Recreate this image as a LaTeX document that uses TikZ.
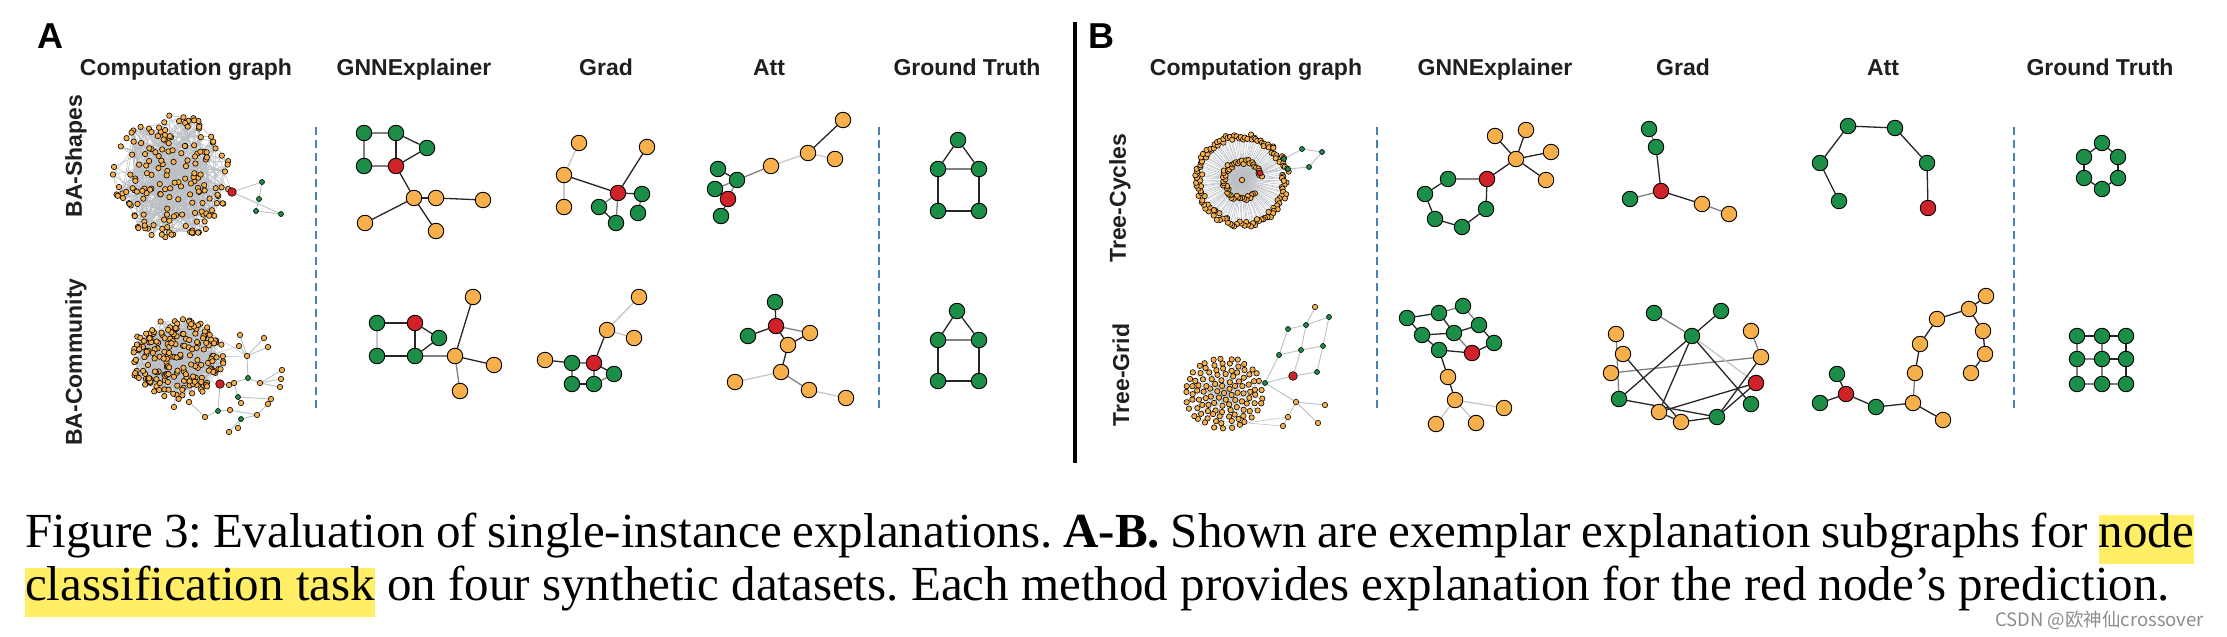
\documentclass[tikz,border=0pt]{standalone}
\usepackage{fontspec}
\setmainfont{Liberation Serif}
\newfontfamily\headfont{Liberation Sans}
\newfontfamily\cjkfont{Noto Sans CJK SC}
\usetikzlibrary{positioning}

\definecolor{nodegreen}{RGB}{27,142,72}
\definecolor{nodeorange}{RGB}{248,176,76}
\definecolor{nodered}{RGB}{208,34,40}
\definecolor{sepblue}{RGB}{74,128,184}
\definecolor{cloudgray}{RGB}{188,192,197}
\definecolor{hlyellow}{RGB}{255,238,102}

\newcommand{\hlword}[1]{\setbox0\hbox{#1}\rlap{\color{hlyellow}\rule[-17pt]{\wd0}{49pt}}\box0\relax}

\pgfdeclarelayer{paper}
\pgfdeclarelayer{edges}
\pgfsetlayers{paper,edges,main}

\tikzset{
  gnode/.style={circle, draw=black, line width=0.9pt, minimum size=15.5pt, inner sep=0pt},
  grn/.style={gnode, fill=nodegreen},
  org/.style={gnode, fill=nodeorange},
  rdn/.style={gnode, fill=nodered},
  edk/.style={draw=black!85, line width=1.3pt},
  emd/.style={draw=black!50, line width=1.3pt},
  elt/.style={draw=black!22, line width=1.3pt},
  cgedge/.style={draw=cloudgray, line width=0.55pt},
  cgo/.style={fill=nodeorange, draw=black, line width=0.6pt},
  cgg/.style={fill=nodegreen, draw=black, line width=0.6pt},
  cgr/.style={fill=nodered, draw=black, line width=0.6pt},
  colhead/.style={font=\headfont\bfseries\fontsize{23}{26}\selectfont, text=black!88, anchor=base, inner sep=0pt},
  rowhead/.style={font=\headfont\bfseries\fontsize{23}{26}\selectfont, text=black!88, rotate=90, inner sep=0pt},
  panel/.style={font=\headfont\bfseries\fontsize{36}{40}\selectfont, anchor=base west, inner sep=0pt},
  sepline/.style={draw=sepblue, line width=2pt, dash pattern=on 8pt off 5pt},
  capline/.style={font=\fontsize{49}{53}\selectfont\frenchspacing, anchor=base west, inner sep=0pt},
}

\begin{document}
\begin{tikzpicture}[x=1pt, y=-1pt]
    \useasboundingbox (0,0) rectangle (2227,637);
    \begin{pgfonlayer}{paper}
        \fill[white] (0,0) rectangle (2227,637);
    \end{pgfonlayer}

    % Panel letters and headings
    \node[panel] (pa) at (37,48) {A};
    \node[panel] (pb) at (1088,48) {B};
    \foreach \n/\x/\t in {cg/186/Computation graph, gx/414/GNNExplainer, gr/606/Grad, at/769/Att, gt/967/Ground Truth}
        \node[colhead] (ha-\n) at (\x,75) {\t};
    \foreach \n/\x/\t in {cg/1256/Computation graph, gx/1495/GNNExplainer, gr/1683/Grad, at/1883/Att, gt/2100/Ground Truth}
        \node[colhead] (hb-\n) at (\x,75) {\t};
    \node[rowhead] (ra1) at (76,156) {BA-Shapes};
    \node[rowhead] (ra2) at (76,362) {BA-Community};
    \node[rowhead] (rb1) at (1120,198) {Tree-Cycles};
    \node[rowhead] (rb2) at (1121,375) {Tree-Grid};

    % Separators
    \foreach \x in {316,879,1377,2014}
        \draw[sepline] (\x,127) -- (\x,413);
    \draw[line width=3.5pt] (1075,22) -- (1075,463);

    % BA-Shapes computation graph
    \pgfmathsetseed{7}
    \foreach \i in {1,...,175} {
        \pgfmathsetmacro\ang{360*rnd}
        \pgfmathsetmacro\rad{sqrt(rnd)}
        \coordinate (sc\i) at ({172+60*\rad*cos(\ang)},{177+63*\rad*sin(\ang)});
    }
    \coordinate (sc-r) at (232,192);
    \foreach \n/\x/\y in {s1/262/182, s2/259/199, s3/256/211, s4/281/214}
        \coordinate (sc-\n) at (\x,\y);
    \begin{pgfonlayer}{edges}
        \foreach \i in {2,...,175} {
            \pgfmathtruncatemacro\j{1+floor(rnd*(\i-1))}
            \pgfmathtruncatemacro\k{1+floor(rnd*(\i-1))}
            \pgfmathtruncatemacro\m{1+floor(rnd*(\i-1))}
            \draw[cgedge] (sc\i) -- (sc\j) (sc\i) -- (sc\k) (sc\i) -- (sc\m);
        }
        \foreach \i in {5,30,62,118}
            \draw[cgedge] (sc-r) -- (sc\i);
        \foreach \a/\b in {r/s1, s1/s2, s2/s3, s3/s4, r/s4}
            \draw[cgedge, line width=0.9pt] (sc-\a) -- (sc-\b);
    \end{pgfonlayer}
    \foreach \i in {1,...,175}
        \filldraw[cgo] (sc\i) circle (2.7pt);
    \foreach \n in {s1,s2,s3,s4}
        \filldraw[cgg] (sc-\n) circle (2.5pt);
    \filldraw[cgr] (sc-r) circle (4.3pt);

    % BA-Community computation graph
    \foreach \i in {1,...,210} {
        \pgfmathsetmacro\ang{360*rnd}
        \pgfmathsetmacro\rad{sqrt(rnd)}
        \coordinate (cb\i) at ({177+47*\rad*cos(\ang)},{358+41*\rad*sin(\ang)});
    }
    \coordinate (cc-r) at (220,384);
    \foreach \n/\x/\y in {k1/240/335, k2/264/338, k3/239/346, k4/268/347, k5/247/356, k6/248/378,
        k7/282/370, k8/281/379, k9/260/383, k10/280/387, k11/238/397, k12/241/403, k13/271/399,
        k14/268/404, k15/218/411, k16/230/410, k17/257/415, k18/241/419, k19/205/417, k20/229/432,
        k21/238/428, k22/174/407, k23/189/402, k24/234/383, k25/229/385}
        \coordinate (cc-\n) at (\x,\y);
    \begin{pgfonlayer}{edges}
        \foreach \i in {2,...,210} {
            \pgfmathtruncatemacro\j{1+floor(rnd*(\i-1))}
            \pgfmathtruncatemacro\k{1+floor(rnd*(\i-1))}
            \pgfmathtruncatemacro\m{1+floor(rnd*(\i-1))}
            \draw[cgedge] (cb\i) -- (cb\j) (cb\i) -- (cb\k) (cb\i) -- (cb\m);
        }
        \foreach \a/\b in {r/k25, k25/k24, k24/k6, k6/k5, k5/k1, k5/k2, k5/k3, k5/k4, k6/k9, k9/k7,
            k9/k8, k9/k10, k24/k11, k11/k12, k11/k13, k13/k14, k14/k17, r/k15, k15/k16, k16/k17,
            k17/k18, k18/k20, k18/k21, k15/k19, k19/k23}
            \draw[cgedge, line width=0.9pt] (cc-\a) -- (cc-\b);
        \foreach \a/\i in {k5/12, k5/80, k3/44, r/9, r/150, k22/33, k23/101, k22/170}
            \draw[cgedge] (cc-\a) -- (cb\i);
    \end{pgfonlayer}
    \foreach \i in {1,...,210}
        \filldraw[cgo] (cb\i) circle (2.7pt);
    \foreach \n in {k1,k2,k3,k4,k5,k7,k8,k9,k10,k12,k13,k14,k16,k17,k19,k20,k21,k22,k23,k24,k25}
        \filldraw[cgo] (cc-\n) circle (2.7pt);
    \foreach \n in {k6,k11,k15,k18}
        \filldraw[cgg] (cc-\n) circle (2.5pt);
    \filldraw[cgr] (cc-r) circle (4.3pt);

    % Tree-Cycles computation graph
    \coordinate (yc0) at (1242,180);
    \foreach \i in {1,...,125} {
        \pgfmathsetmacro\ang{\i*2.88+2*rnd}
        \pgfmathsetmacro\rad{40+7.5*rnd}
        \coordinate (yco\i) at ({1242+\rad*cos(\ang)},{180+\rad*sin(\ang)});
    }
    \foreach \i in {1,...,50} {
        \pgfmathsetmacro\ang{40+\i*6.2}
        \pgfmathsetmacro\rad{16+5*rnd}
        \coordinate (yci\i) at ({1242+\rad*cos(\ang)},{180+\rad*sin(\ang)});
    }
    \coordinate (yc-r) at (1260,173);
    \foreach \n/\x/\y in {c1/1302/149, c2/1322/152, c3/1309/167, c4/1288/169, c5/1284/159}
        \coordinate (yc-\n) at (\x,\y);
    \begin{pgfonlayer}{edges}
        \foreach \i in {1,...,125}
            \draw[cgedge] (yc0) -- (yco\i);
        \foreach \i in {1,...,50}
            \draw[cgedge] (yc0) -- (yci\i);
        \foreach \a/\b in {c5/c1, c1/c2, c2/c3, c3/c4, c4/r, c5/r}
            \draw[cgedge, line width=0.9pt] (yc-\a) -- (yc-\b);
    \end{pgfonlayer}
    \foreach \i in {1,...,125}
        \filldraw[cgo] (yco\i) circle (2.7pt);
    \foreach \i in {1,...,50}
        \filldraw[cgo] (yci\i) circle (2.7pt);
    \filldraw[cgo] (yc0) circle (2.7pt);
    \foreach \n in {c1,c2,c3,c4,c5}
        \filldraw[cgg] (yc-\n) circle (2.5pt);
    \filldraw[cgr] (yc-r) circle (3pt);

    % Tree-Grid computation graph
    \coordinate (tc0) at (1224,393);
    \foreach \r/\n [count=\q] in {7/6, 13/11, 19/16, 25/21, 31/25, 37/29} {
        \foreach \k in {1,...,\n} {
            \pgfmathsetmacro\ang{360*\k/\n+15*\q+6*rnd}
            \pgfmathsetmacro\rad{\r+2*rnd}
            \coordinate (tc\q-\k) at ({1224+\rad*cos(\ang)},{393+0.92*\rad*sin(\ang)});
        }
    }
    \coordinate (tc-r) at (1293,376);
    \foreach \n/\x/\y in {tA/1315/307, tB/1329/317, tC/1288/329, tD/1306/325, tE/1279/355, tF/1301/350,
        tG/1323/346, tH/1317/372, tI/1265/383, tJ/1296/402, tK/1325/405, tL/1288/417, tM/1283/426, tN/1318/423}
        \coordinate (tc-\n) at (\x,\y);
    \begin{pgfonlayer}{edges}
        \foreach \r/\n [count=\q] in {7/6, 13/11, 19/16, 25/21, 31/25, 37/29}
            \foreach \k in {1,...,\n}
                \draw[cgedge] (tc0) -- (tc\q-\k);
        \foreach \a/\b in {tA/tD, tC/tD, tD/tB, tE/tF, tF/tG, tI/r, r/tH, tC/tE, tE/tI, tD/tF,
            tF/r, tB/tG, tG/tH, tI/tJ, tJ/tK, tJ/tL, tL/tM, tJ/tN}
            \draw[cgedge, line width=0.9pt] (tc-\a) -- (tc-\b);
        \draw[cgedge] (tc0) -- (tc-tI) (tc6-3) -- (tc-tM) (tc6-1) -- (tc-tL);
    \end{pgfonlayer}
    \foreach \r/\n [count=\q] in {7/6, 13/11, 19/16, 25/21, 31/25, 37/29}
        \foreach \k in {1,...,\n}
            \filldraw[cgo] (tc\q-\k) circle (2.7pt);
    \filldraw[cgo] (tc0) circle (2.7pt);
    \foreach \n in {tA,tJ,tK,tL,tM,tN}
        \filldraw[cgo] (tc-\n) circle (2.7pt);
    \foreach \n in {tB,tC,tD,tE,tF,tG,tH,tI}
        \filldraw[cgg] (tc-\n) circle (2.5pt);
    \filldraw[cgr] (tc-r) circle (4.3pt);

    % BA-Shapes explanations
    \foreach \n/\x/\y/\s in {g1/364/133/grn, g2/396/133/grn, g3/427/148/grn, g4/364/166/grn, r/396/166/rdn,
        o1/414/198/org, o2/436/198/org, o3/483/200/org, o4/365/223/org, o5/436/231/org}
        \node[\s] (sx-\n) at (\x,\y) {};
    \foreach \n/\x/\y/\s in {o1/579/143/org, o2/647/147/org, o3/564/175/org, r/618/193/rdn, g1/642/194/grn,
        o4/564/207/org, g2/599/207/grn, g3/638/213/grn, g4/616/223/grn}
        \node[\s] (sd-\n) at (\x,\y) {};
    \foreach \n/\x/\y/\s in {o1/843/120/org, o2/808/153/org, o3/835/159/org, o4/771/166/org, g1/718/169/grn,
        g2/737/180/grn, g3/715/189/grn, r/728/199/rdn, g4/721/216/grn}
        \node[\s] (sa-\n) at (\x,\y) {};
    \foreach \n/\x/\y in {top/958/140, ml/938/169, mr/979/169, bl/938/211, br/979/211}
        \node[grn] (st-\n) at (\x,\y) {};

    % BA-Community explanations
    \foreach \n/\x/\y/\s in {g1/377/323/grn, r/415/323/rdn, g2/439/338/grn, g3/377/356/grn, g4/415/356/grn,
        o1/455/356/org, o2/473/297/org, o3/494/365/org, o4/460/391/org}
        \node[\s] (cx-\n) at (\x,\y) {};
    \foreach \n/\x/\y/\s in {o1/545/360/org, g1/572/363/grn, r/594/363/rdn, g2/614/374/grn, g3/572/384/grn,
        g4/594/384/grn, o2/607/330/org, o3/639/297/org, o4/634/338/org}
        \node[\s] (cd-\n) at (\x,\y) {};
    \foreach \n/\x/\y/\s in {g1/775/302/grn, r/776/326/rdn, g2/748/336/grn, o1/810/333/org, o2/788/345/org,
        o3/781/372/org, o4/735/382/org, o5/809/390/org, o6/846/398/org}
        \node[\s] (ca-\n) at (\x,\y) {};
    \foreach \n/\x/\y in {top/957/311, ml/938/340, mr/979/340, bl/938/381, br/979/381}
        \node[grn] (ct-\n) at (\x,\y) {};

    % Tree-Cycles explanations
    \foreach \n/\x/\y/\s in {o1/1495/136/org, o2/1526/130/org, o3/1551/152/org, o4/1516/159/org, o5/1546/180/org,
        r/1487/179/rdn, g1/1448/179/grn, g2/1425/194/grn, g3/1486/209/grn, g4/1435/219/grn, g5/1462/227/grn}
        \node[\s] (yx-\n) at (\x,\y) {};
    \foreach \n/\x/\y/\s in {g1/1649/129/grn, g2/1656/147/grn, r/1661/191/rdn, o1/1702/204/org, o2/1729/214/org,
        g3/1630/199/grn}
        \node[\s] (yd-\n) at (\x,\y) {};
    \foreach \n/\x/\y/\s in {g1/1848/126/grn, g2/1895/128/grn, g3/1820/163/grn, g4/1927/163/grn, g5/1839/201/grn,
        r/1928/208/rdn}
        \node[\s] (ya-\n) at (\x,\y) {};
    \foreach \n/\x/\y in {top/2102/143, ul/2084/157, ur/2118/157, ll/2084/178, lr/2118/178, bot/2102/189}
        \node[grn] (yt-\n) at (\x,\y) {};

    % Tree-Grid explanations
    \foreach \n/\x/\y/\s in {g1/1407/318/grn, g2/1439/313/grn, g3/1463/306/grn, g4/1422/335/grn, g5/1454/333/grn,
        g6/1479/325/grn, g7/1439/350/grn, r/1472/353/rdn, g8/1494/343/grn, o1/1448/377/org, o2/1455/400/org,
        o3/1504/408/org, o4/1436/424/org, o5/1476/423/org}
        \node[\s] (tx-\n) at (\x,\y) {};
    \foreach \n/\x/\y/\s in {g1/1654/313/grn, g2/1721/311/grn, g3/1692/336/grn, o1/1751/331/org, o2/1761/357/org,
        r/1756/383/rdn, g4/1751/404/grn, o3/1616/334/org, o4/1623/354/org, o5/1611/373/org, g5/1619/399/grn,
        o6/1659/412/org, o7/1681/422/org, g6/1717/417/grn}
        \node[\s] (td-\n) at (\x,\y) {};
    \foreach \n/\x/\y/\s in {g1/1837/374/grn, r/1846/394/rdn, g2/1820/403/grn, g3/1876/407/grn, o1/1913/403/org,
        o2/1943/420/org, o3/1915/373/org, o4/1920/344/org, o5/1937/319/org, o6/1969/309/org, o7/1986/296/org,
        o8/1983/331/org, o9/1985/354/org, o10/1971/373/org}
        \node[\s] (ta-\n) at (\x,\y) {};
    \foreach \i/\x in {1/2077, 2/2102, 3/2126}
        \foreach \j/\y in {1/336, 2/359, 3/384}
            \node[grn] (tt-\i\j) at (\x,\y) {};

    % Explanation edges
    \begin{pgfonlayer}{edges}
        \foreach \a/\b/\e in {g1/g2/emd, g1/g4/emd, g4/r/emd, g2/r/edk, g2/g3/edk, r/g3/edk, r/o1/edk,
            o1/o2/edk, o2/o3/edk, o1/o4/edk, o1/o5/edk}
            \draw[\e] (sx-\a) -- (sx-\b);
        \foreach \a/\b/\e in {o1/o3/elt, o3/o4/elt, o3/r/edk, r/o2/edk, r/g1/edk, r/g4/emd, g2/g4/edk,
            g2/r/emd, g1/g3/emd}
            \draw[\e] (sd-\a) -- (sd-\b);
        \foreach \a/\b/\e in {o1/o2/edk, o2/o3/elt, o2/o4/elt, o4/g2/emd, g1/g2/edk, g2/g3/emd, g3/r/edk,
            g2/r/emd, r/g4/edk}
            \draw[\e] (sa-\a) -- (sa-\b);
        \foreach \a/\b/\e in {top/ml/edk, top/mr/edk, ml/mr/emd, ml/bl/edk, mr/br/edk, bl/br/edk} {
            \draw[\e] (st-\a) -- (st-\b);
            \draw[\e] (ct-\a) -- (ct-\b);
        }
        \foreach \a/\b/\e in {g1/r/edk, g1/g3/elt, r/g4/edk, r/g2/edk, g2/g4/edk, g3/g4/edk, g4/o1/emd,
            o1/o2/edk, o1/o3/edk, o1/o4/emd}
            \draw[\e] (cx-\a) -- (cx-\b);
        \foreach \a/\b/\e in {o1/g1/edk, g1/r/emd, r/o2/edk, o2/o3/elt, o2/o4/elt, g1/g3/emd, r/g4/emd,
            r/g2/edk, g2/g4/emd, g3/g4/edk}
            \draw[\e] (cd-\a) -- (cd-\b);
        \foreach \a/\b/\e in {g1/r/edk, r/g2/edk, r/o1/emd, r/o2/edk, o1/o2/edk, o2/o3/edk, o3/o4/elt,
            o3/o5/emd, o5/o6/elt}
            \draw[\e] (ca-\a) -- (ca-\b);
        \foreach \a/\b/\e in {o1/o4/edk, o2/o4/edk, o3/o4/edk, o5/o4/edk, o4/r/edk, r/g1/emd, g1/g2/edk,
            g2/g4/edk, g4/g5/edk, g5/g3/edk, g3/r/edk}
            \draw[\e] (yx-\a) -- (yx-\b);
        \foreach \a/\b/\e in {g1/g2/emd, g2/r/edk, r/o1/edk, o1/o2/emd, r/g3/emd}
            \draw[\e] (yd-\a) -- (yd-\b);
        \foreach \a/\b in {g1/g2, g1/g3, g3/g5, g2/g4, g4/r}
            \draw[edk] (ya-\a) -- (ya-\b);
        \foreach \a/\b in {top/ur, ur/lr, lr/bot, bot/ll, ll/ul, ul/top}
            \draw[edk] (yt-\a) -- (yt-\b);
        \foreach \a/\b/\e in {g1/g2/edk, g2/g3/emd, g1/g4/edk, g2/g5/edk, g3/g6/emd, g4/g5/edk, g5/g6/edk,
            g4/g7/edk, g5/r/emd, g6/g8/edk, g7/r/edk, r/g8/edk, g7/o1/edk, o1/o2/edk, o2/o3/elt,
            o2/o4/elt, o2/o5/elt}
            \draw[\e] (tx-\a) -- (tx-\b);
        \foreach \a/\b/\e in {g1/g3/emd, g2/g3/edk, o1/o2/emd, o3/g5/emd, o5/o2/emd, o4/o7/edk, g3/g5/edk,
            g3/o6/edk, g3/g4/edk, g3/r/elt, g5/g6/edk, o6/r/edk, o6/o7/edk, o7/g6/edk, g6/o2/edk, g6/r/edk}
            \draw[\e] (td-\a) -- (td-\b);
        \foreach \a/\b/\e in {g1/r/edk, r/g2/edk, r/g3/edk, g3/o1/edk, o1/o2/edk, o1/o3/emd, o3/o4/edk,
            o4/o5/edk, o5/o6/edk, o6/o7/edk, o6/o8/edk, o8/o9/edk, o9/o10/edk}
            \draw[\e] (ta-\a) -- (ta-\b);
        \foreach \a/\b/\e in {11/21/edk, 21/31/edk, 12/22/emd, 22/32/edk, 13/23/emd, 23/33/emd,
            11/12/emd, 12/13/emd, 21/22/emd, 22/23/emd, 31/32/edk, 32/33/edk}
            \draw[\e] (tt-\a) -- (tt-\b);
    \end{pgfonlayer}

    % Caption
    \node[capline] (cap1) at (25,547) {\makebox[2169pt][s]{Figure 3: Evaluation of single-instance explanations. \textbf{A-B.} Shown are exemplar explanation subgraphs for \hlword{node}}};
    \node[capline] (cap2) at (25,600) {\hlword{classification task} on four synthetic datasets. Each method provides explanation for the red node’s prediction.};
    \node[anchor=base west, inner sep=0pt, text=black!45, font=\cjkfont\fontsize{18.5}{21}\selectfont] (wm) at (1995,626) {CSDN @欧神仙crossover};
\end{tikzpicture}
\end{document}
